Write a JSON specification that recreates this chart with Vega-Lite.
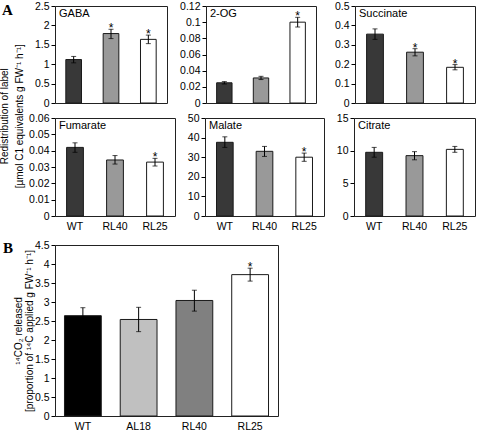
{
"$schema":"https://vega.github.io/schema/vega-lite/v6.json",
"padding":{"left":0,"top":0,"right":0,"bottom":0},
"background":"#ffffff",
"config":{
 "view":{"stroke":"#222222","strokeWidth":1},
 "font":"Liberation Sans",
 "axis":{"labelFont":"Liberation Sans","labelFontSize":10.5,"labelColor":"#000","tickColor":"#000","domain":false,"grid":false,"titleFont":"Liberation Sans","titleFontWeight":"normal","titleColor":"#000","titleFontSize":10,"labelOverlap":false},
 "axisY":{"tickSize":4,"labelPadding":2,"labelOverlap":false,"labelSeparation":-200,"labelExpr":"'' + datum.value"},
 "axisX":{"labelAngle":0,"ticks":false,"tickSize":0,"labelPadding":5,"labelFontSize":10.5},
 "title":{"anchor":"start","frame":"group","font":"Liberation Sans","fontSize":11,"fontWeight":"normal","color":"#000","offset":0,"baseline":"alphabetic","dx":4,"dy":22},
 "bar":{"stroke":"#1a1a1a","strokeWidth":1},
 "tick":{"color":"#000","thickness":1,"size":5},
 "rule":{"color":"#000","strokeWidth":1}
},
"datasets":{
 "a":[
  {"panel":"GABA","g":"WT","mean":1.12,"lo":1.035,"hi":1.2,"star":""},
  {"panel":"GABA","g":"RL40","mean":1.79,"lo":1.66,"hi":1.9,"star":"*"},
  {"panel":"GABA","g":"RL25","mean":1.64,"lo":1.53,"hi":1.75,"star":"*"},
  {"panel":"2-OG","g":"WT","mean":0.025,"lo":0.0235,"hi":0.0265,"star":""},
  {"panel":"2-OG","g":"RL40","mean":0.031,"lo":0.029,"hi":0.033,"star":""},
  {"panel":"2-OG","g":"RL25","mean":0.1,"lo":0.094,"hi":0.106,"star":"*"},
  {"panel":"Succinate","g":"WT","mean":0.355,"lo":0.328,"hi":0.382,"star":""},
  {"panel":"Succinate","g":"RL40","mean":0.262,"lo":0.243,"hi":0.28,"star":"*"},
  {"panel":"Succinate","g":"RL25","mean":0.184,"lo":0.171,"hi":0.198,"star":"*"},
  {"panel":"Fumarate","g":"WT","mean":0.042,"lo":0.039,"hi":0.0448,"star":""},
  {"panel":"Fumarate","g":"RL40","mean":0.0343,"lo":0.0318,"hi":0.037,"star":""},
  {"panel":"Fumarate","g":"RL25","mean":0.033,"lo":0.0306,"hi":0.0353,"star":"*"},
  {"panel":"Malate","g":"WT","mean":37.6,"lo":35,"hi":40.4,"star":""},
  {"panel":"Malate","g":"RL40","mean":33,"lo":30.4,"hi":35.5,"star":""},
  {"panel":"Malate","g":"RL25","mean":30,"lo":27.9,"hi":32.1,"star":"*"},
  {"panel":"Citrate","g":"WT","mean":9.75,"lo":9.0,"hi":10.5,"star":""},
  {"panel":"Citrate","g":"RL40","mean":9.24,"lo":8.6,"hi":9.85,"star":""},
  {"panel":"Citrate","g":"RL25","mean":10.2,"lo":9.75,"hi":10.65,"star":""}
 ],
 "b":[
  {"g":"WT","mean":2.64,"lo":2.43,"hi":2.85,"star":""},
  {"g":"AL18","mean":2.54,"lo":2.22,"hi":2.86,"star":""},
  {"g":"RL40","mean":3.04,"lo":2.76,"hi":3.31,"star":""},
  {"g":"RL25","mean":3.72,"lo":3.55,"hi":3.89,"star":"*"}
 ]
},
"resolve":{"scale":{"x":"independent","y":"independent","fill":"independent"}},
"spacing":7,
"vconcat":[
 {
  "title":{"text":["Redistribution of label","[µmol C1 equivalents g FW⁻¹ h⁻¹]"],"orient":"left","anchor":"middle","frame":"bounds","offset":-33,"fontSize":10,"lineHeight":15,"baseline":"bottom","dx":0,"dy":0},
  "spacing":3,
  "resolve":{"scale":{"x":"independent","y":"independent"}},
  "vconcat":[
   {
    "title":{"text":"A","font":"Liberation Serif","fontWeight":"bold","fontSize":15,"dx":-53,"dy":21},
    "bounds":"flush",
    "spacing":39,
    "resolve":{"scale":{"x":"independent","y":"independent"}},
    "hconcat":[
     {
      "width":112,"height":97,
      "title":"GABA",
      "data":{"name":"a"},
      "transform":[{"filter":"datum.panel == 'GABA'"}],
      "encoding":{"x":{"field":"g","type":"nominal","sort":["WT","RL40","RL25"],"scale":{"paddingInner":0.58,"paddingOuter":0.29},"axis":null}},
      "layer":[
       {"mark":"bar","encoding":{"y":{"field":"mean","type":"quantitative","scale":{"domain":[0,2.5],"nice":false},"axis":{"values":[0,0.5,1,1.5,2,2.5],"labelOverlap":false,"title":null}},"fill":{"field":"g","type":"nominal","scale":{"domain":["WT","RL40","RL25"],"range":["#383838","#999999","#ffffff"]},"legend":null}}},
       {"mark":"rule","encoding":{"y":{"field":"lo","type":"quantitative","axis":{"values":[0,0.5,1,1.5,2,2.5],"labelOverlap":false,"title":null}},"y2":{"field":"hi"}}},
       {"mark":"tick","encoding":{"y":{"field":"hi","type":"quantitative","axis":{"values":[0,0.5,1,1.5,2,2.5],"labelOverlap":false,"title":null}}}},
       {"mark":"tick","encoding":{"y":{"field":"lo","type":"quantitative","axis":{"values":[0,0.5,1,1.5,2,2.5],"labelOverlap":false,"title":null}}}},
       {"mark":{"type":"text","fontSize":12,"baseline":"alphabetic","dy":3},"encoding":{"y":{"field":"hi","type":"quantitative","axis":{"values":[0,0.5,1,1.5,2,2.5],"labelOverlap":false,"title":null}},"text":{"field":"star"}}}
      ]
     },
     {
      "width":110,"height":97,
      "title":"2-OG",
      "data":{"name":"a"},
      "transform":[{"filter":"datum.panel == '2-OG'"}],
      "encoding":{"x":{"field":"g","type":"nominal","sort":["WT","RL40","RL25"],"scale":{"paddingInner":0.58,"paddingOuter":0.29},"axis":null}},
      "layer":[
       {"mark":"bar","encoding":{"y":{"field":"mean","type":"quantitative","scale":{"domain":[0,0.12],"nice":false},"axis":{"values":[0,0.02,0.04,0.06,0.08,0.1,0.12],"labelOverlap":false,"title":null}},"fill":{"field":"g","type":"nominal","scale":{"domain":["WT","RL40","RL25"],"range":["#383838","#999999","#ffffff"]},"legend":null}}},
       {"mark":"rule","encoding":{"y":{"field":"lo","type":"quantitative","axis":{"values":[0,0.02,0.04,0.06,0.08,0.1,0.12],"labelOverlap":false,"title":null}},"y2":{"field":"hi"}}},
       {"mark":"tick","encoding":{"y":{"field":"hi","type":"quantitative","axis":{"values":[0,0.02,0.04,0.06,0.08,0.1,0.12],"labelOverlap":false,"title":null}}}},
       {"mark":"tick","encoding":{"y":{"field":"lo","type":"quantitative","axis":{"values":[0,0.02,0.04,0.06,0.08,0.1,0.12],"labelOverlap":false,"title":null}}}},
       {"mark":{"type":"text","fontSize":12,"baseline":"alphabetic","dy":3},"encoding":{"y":{"field":"hi","type":"quantitative","axis":{"values":[0,0.02,0.04,0.06,0.08,0.1,0.12],"labelOverlap":false,"title":null}},"text":{"field":"star"}}}
      ]
     },
     {
      "width":120,"height":97,
      "title":"Succinate",
      "data":{"name":"a"},
      "transform":[{"filter":"datum.panel == 'Succinate'"}],
      "encoding":{"x":{"field":"g","type":"nominal","sort":["WT","RL40","RL25"],"scale":{"paddingInner":0.58,"paddingOuter":0.29},"axis":null}},
      "layer":[
       {"mark":"bar","encoding":{"y":{"field":"mean","type":"quantitative","scale":{"domain":[0,0.5],"nice":false},"axis":{"values":[0,0.1,0.2,0.3,0.4,0.5],"labelOverlap":false,"title":null}},"fill":{"field":"g","type":"nominal","scale":{"domain":["WT","RL40","RL25"],"range":["#383838","#999999","#ffffff"]},"legend":null}}},
       {"mark":"rule","encoding":{"y":{"field":"lo","type":"quantitative","axis":{"values":[0,0.1,0.2,0.3,0.4,0.5],"labelOverlap":false,"title":null}},"y2":{"field":"hi"}}},
       {"mark":"tick","encoding":{"y":{"field":"hi","type":"quantitative","axis":{"values":[0,0.1,0.2,0.3,0.4,0.5],"labelOverlap":false,"title":null}}}},
       {"mark":"tick","encoding":{"y":{"field":"lo","type":"quantitative","axis":{"values":[0,0.1,0.2,0.3,0.4,0.5],"labelOverlap":false,"title":null}}}},
       {"mark":{"type":"text","fontSize":12,"baseline":"alphabetic","dy":3},"encoding":{"y":{"field":"hi","type":"quantitative","axis":{"values":[0,0.1,0.2,0.3,0.4,0.5],"labelOverlap":false,"title":null}},"text":{"field":"star"}}}
      ]
     }
    ]
   },
   {
    "bounds":"flush",
    "spacing":30,
    "resolve":{"scale":{"x":"independent","y":"independent"}},
    "hconcat":[
     {
      "width":120,"height":98,
      "title":"Fumarate",
      "data":{"name":"a"},
      "transform":[{"filter":"datum.panel == 'Fumarate'"}],
      "encoding":{"x":{"field":"g","type":"nominal","sort":["WT","RL40","RL25"],"scale":{"paddingInner":0.58,"paddingOuter":0.29},"axis":{"title":null}}},
      "layer":[
       {"mark":"bar","encoding":{"y":{"field":"mean","type":"quantitative","scale":{"domain":[0,0.06],"nice":false},"axis":{"values":[0,0.01,0.02,0.03,0.04,0.05,0.06],"labelOverlap":false,"title":null}},"fill":{"field":"g","type":"nominal","scale":{"domain":["WT","RL40","RL25"],"range":["#383838","#999999","#ffffff"]},"legend":null}}},
       {"mark":"rule","encoding":{"y":{"field":"lo","type":"quantitative","axis":{"values":[0,0.01,0.02,0.03,0.04,0.05,0.06],"labelOverlap":false,"title":null}},"y2":{"field":"hi"}}},
       {"mark":"tick","encoding":{"y":{"field":"hi","type":"quantitative","axis":{"values":[0,0.01,0.02,0.03,0.04,0.05,0.06],"labelOverlap":false,"title":null}}}},
       {"mark":"tick","encoding":{"y":{"field":"lo","type":"quantitative","axis":{"values":[0,0.01,0.02,0.03,0.04,0.05,0.06],"labelOverlap":false,"title":null}}}},
       {"mark":{"type":"text","fontSize":12,"baseline":"alphabetic","dy":3},"encoding":{"y":{"field":"hi","type":"quantitative","axis":{"values":[0,0.01,0.02,0.03,0.04,0.05,0.06],"labelOverlap":false,"title":null}},"text":{"field":"star"}}}
      ]
     },
     {
      "width":119,"height":98,
      "title":"Malate",
      "data":{"name":"a"},
      "transform":[{"filter":"datum.panel == 'Malate'"}],
      "encoding":{"x":{"field":"g","type":"nominal","sort":["WT","RL40","RL25"],"scale":{"paddingInner":0.58,"paddingOuter":0.29},"axis":{"title":null}}},
      "layer":[
       {"mark":"bar","encoding":{"y":{"field":"mean","type":"quantitative","scale":{"domain":[0,50],"nice":false},"axis":{"values":[0,10,20,30,40,50],"labelOverlap":false,"title":null}},"fill":{"field":"g","type":"nominal","scale":{"domain":["WT","RL40","RL25"],"range":["#383838","#999999","#ffffff"]},"legend":null}}},
       {"mark":"rule","encoding":{"y":{"field":"lo","type":"quantitative","axis":{"values":[0,10,20,30,40,50],"labelOverlap":false,"title":null}},"y2":{"field":"hi"}}},
       {"mark":"tick","encoding":{"y":{"field":"hi","type":"quantitative","axis":{"values":[0,10,20,30,40,50],"labelOverlap":false,"title":null}}}},
       {"mark":"tick","encoding":{"y":{"field":"lo","type":"quantitative","axis":{"values":[0,10,20,30,40,50],"labelOverlap":false,"title":null}}}},
       {"mark":{"type":"text","fontSize":12,"baseline":"alphabetic","dy":3},"encoding":{"y":{"field":"hi","type":"quantitative","axis":{"values":[0,10,20,30,40,50],"labelOverlap":false,"title":null}},"text":{"field":"star"}}}
      ]
     },
     {
      "width":121,"height":98,
      "title":"Citrate",
      "data":{"name":"a"},
      "transform":[{"filter":"datum.panel == 'Citrate'"}],
      "encoding":{"x":{"field":"g","type":"nominal","sort":["WT","RL40","RL25"],"scale":{"paddingInner":0.58,"paddingOuter":0.29},"axis":{"title":null}}},
      "layer":[
       {"mark":"bar","encoding":{"y":{"field":"mean","type":"quantitative","scale":{"domain":[0,15],"nice":false},"axis":{"values":[0,5,10,15],"labelOverlap":false,"title":null}},"fill":{"field":"g","type":"nominal","scale":{"domain":["WT","RL40","RL25"],"range":["#383838","#999999","#ffffff"]},"legend":null}}},
       {"mark":"rule","encoding":{"y":{"field":"lo","type":"quantitative","axis":{"values":[0,5,10,15],"labelOverlap":false,"title":null}},"y2":{"field":"hi"}}},
       {"mark":"tick","encoding":{"y":{"field":"hi","type":"quantitative","axis":{"values":[0,5,10,15],"labelOverlap":false,"title":null}}}},
       {"mark":"tick","encoding":{"y":{"field":"lo","type":"quantitative","axis":{"values":[0,5,10,15],"labelOverlap":false,"title":null}}}},
       {"mark":{"type":"text","fontSize":12,"baseline":"alphabetic","dy":3},"encoding":{"y":{"field":"hi","type":"quantitative","axis":{"values":[0,5,10,15],"labelOverlap":false,"title":null}},"text":{"field":"star"}}}
      ]
     }
    ]
   }
  ]
 },
 {
  "resolve":{"scale":{"x":"independent","y":"independent"}},
  "vconcat":[
   {
    "width":223,"height":171,
    "title":{"text":"B","font":"Liberation Serif","fontWeight":"bold","fontSize":15,"dx":-52,"dy":20},
    "data":{"name":"b"},
    "encoding":{"x":{"field":"g","type":"nominal","sort":["WT","AL18","RL40","RL25"],"scale":{"paddingInner":0.34,"paddingOuter":0.17},"axis":{"title":null}}},
    "layer":[
     {"mark":"bar","encoding":{"y":{"field":"mean","type":"quantitative","scale":{"domain":[0,4.5],"nice":false},"axis":{"values":[0,0.5,1,1.5,2,2.5,3,3.5,4,4.5],"labelOverlap":false,"title":["¹⁴CO₂ released","[proportion of ¹⁴C applied g FW⁻¹ h⁻¹]"],"titleX":-37,"titleY":85.5,"titleBaseline":"middle","titleAlign":"center","titleLineHeight":11.5}},"fill":{"field":"g","type":"nominal","scale":{"domain":["WT","AL18","RL40","RL25"],"range":["#000000","#c0c0c0","#808080","#ffffff"]},"legend":null}}},
     {"mark":"rule","encoding":{"y":{"field":"lo","type":"quantitative","axis":{"values":[0,0.5,1,1.5,2,2.5,3,3.5,4,4.5],"labelOverlap":false,"title":["¹⁴CO₂ released","[proportion of ¹⁴C applied g FW⁻¹ h⁻¹]"],"titleX":-37,"titleY":85.5,"titleBaseline":"middle","titleAlign":"center","titleLineHeight":11.5}},"y2":{"field":"hi"}}},
     {"mark":"tick","encoding":{"y":{"field":"hi","type":"quantitative","axis":{"values":[0,0.5,1,1.5,2,2.5,3,3.5,4,4.5],"labelOverlap":false,"title":["¹⁴CO₂ released","[proportion of ¹⁴C applied g FW⁻¹ h⁻¹]"],"titleX":-37,"titleY":85.5,"titleBaseline":"middle","titleAlign":"center","titleLineHeight":11.5}}}},
     {"mark":"tick","encoding":{"y":{"field":"lo","type":"quantitative","axis":{"values":[0,0.5,1,1.5,2,2.5,3,3.5,4,4.5],"labelOverlap":false,"title":["¹⁴CO₂ released","[proportion of ¹⁴C applied g FW⁻¹ h⁻¹]"],"titleX":-37,"titleY":85.5,"titleBaseline":"middle","titleAlign":"center","titleLineHeight":11.5}}}},
     {"mark":{"type":"text","fontSize":12,"baseline":"alphabetic","dy":3},"encoding":{"y":{"field":"hi","type":"quantitative","axis":{"values":[0,0.5,1,1.5,2,2.5,3,3.5,4,4.5],"labelOverlap":false,"title":["¹⁴CO₂ released","[proportion of ¹⁴C applied g FW⁻¹ h⁻¹]"],"titleX":-37,"titleY":85.5,"titleBaseline":"middle","titleAlign":"center","titleLineHeight":11.5}},"text":{"field":"star"}}}
    ]
   }
  ]
 }
]
}
